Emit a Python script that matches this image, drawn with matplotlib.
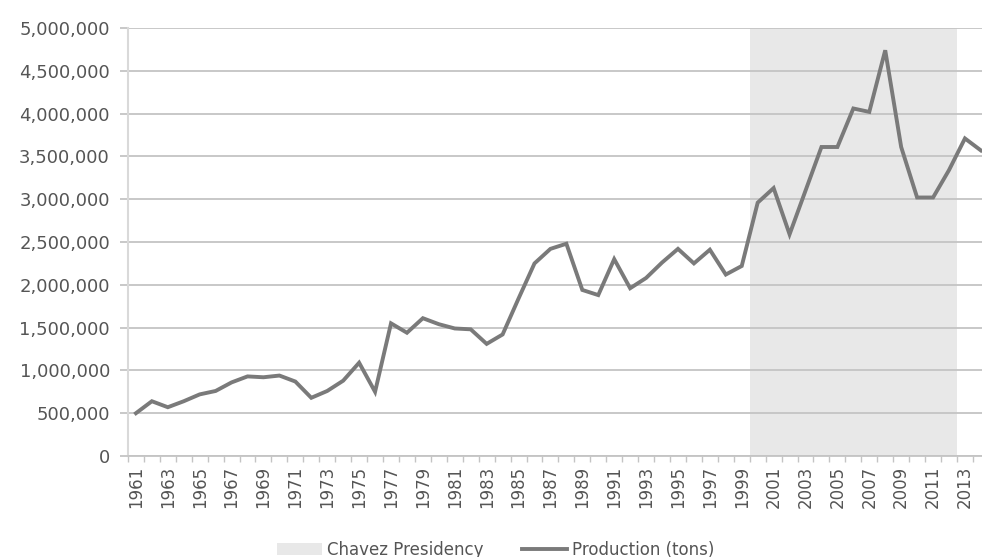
import matplotlib
matplotlib.use("Agg")
import matplotlib.pyplot as plt
import matplotlib.ticker as ticker
from matplotlib.patches import Patch
from matplotlib.lines import Line2D
import numpy as np

# Annual production (tons), 1961-2014
years = list(range(1961, 2015))
production = [
    500000, 640000, 570000, 640000, 720000, 760000, 860000, 930000, 920000, 940000,
    870000, 680000, 760000, 880000, 1090000, 750000, 1550000, 1440000, 1610000, 1540000,
    1490000, 1480000, 1310000, 1420000, 1840000, 2250000, 2420000, 2480000, 1940000, 1880000,
    2300000, 1960000, 2080000, 2260000, 2420000, 2250000, 2410000, 2120000, 2220000, 2960000,
    3130000, 2590000, 3100000, 3610000, 3610000, 4060000, 4020000, 4740000, 3610000, 3020000,
    3020000, 3340000, 3710000, 3570000,
]

# Years of the Chavez presidency shaded behind the series
chavez_years = list(range(2000, 2013))
chavez_top = [5000000] * len(chavez_years)

y_ticks = list(range(0, 5000001, 500000))
x_labels = list(range(1961, 2014, 2))

LINE_COLOR = "#7a7a7a"
SHADE_COLOR = "#e8e8e8"
GRID_COLOR = "#c4c4c4"
TEXT_COLOR = "#555555"
FONT = "DejaVu Sans"

fig = plt.figure(figsize=(9.82, 5.57), dpi=100)
ax = fig.add_axes([0.1303, 0.1813, 0.8697, 0.7684])

ax.bar(chavez_years, chavez_top, width=1.0, color=SHADE_COLOR, zorder=0.3,
       linewidth=0)
ax.plot(years, production, color=LINE_COLOR, linewidth=2.8, zorder=3,
        solid_joinstyle="miter")

ax.set_xlim(1960.5, 2014.07)
ax.set_ylim(0, 5000000)

# y axis: gridlines every 500,000 with short outside ticks
ax.set_yticks(y_ticks)
ax.yaxis.set_major_formatter(ticker.FuncFormatter(lambda v, p: f"{int(v):,}"))
ax.set_axisbelow(True)
ax.yaxis.grid(True, color=GRID_COLOR, linewidth=1.3)
ax.tick_params(axis="y", length=6, width=1.3, color=GRID_COLOR, pad=7,
               labelsize=13, labelcolor=TEXT_COLOR)

# x axis: labels every other year, tick marks between categories
ax.set_xticks(x_labels)
ax.set_xticklabels([str(y) for y in x_labels], rotation=90)
ax.xaxis.set_minor_locator(ticker.FixedLocator(np.arange(1960.5, 2014.6, 1.0)))
ax.tick_params(axis="x", which="major", length=0, pad=7, labelsize=12,
               labelcolor=TEXT_COLOR)
ax.tick_params(axis="x", which="minor", length=4, width=1.0, color=GRID_COLOR)

for lab in ax.get_xticklabels() + ax.get_yticklabels():
    lab.set_fontfamily(FONT)

ax.spines[["top", "right"]].set_visible(False)
ax.spines["left"].set_color("#d9d9d9")
ax.spines["left"].set_linewidth(1.5)
ax.spines["bottom"].set_color(GRID_COLOR)
ax.spines["bottom"].set_linewidth(1.3)

handles = [
    Patch(facecolor=SHADE_COLOR, edgecolor="none", label="Chavez Presidency"),
    Line2D([0], [0], color=LINE_COLOR, linewidth=2.8, label="Production (tons)"),
]
fig.legend(handles=handles, loc="lower center", ncol=2, frameon=False,
           bbox_to_anchor=(0.505, -0.03), handlelength=2.7, handletextpad=0.3,
           columnspacing=2.3,
           prop={"family": FONT, "size": 12}, labelcolor=TEXT_COLOR)

fig.savefig("out.png", dpi=100)
